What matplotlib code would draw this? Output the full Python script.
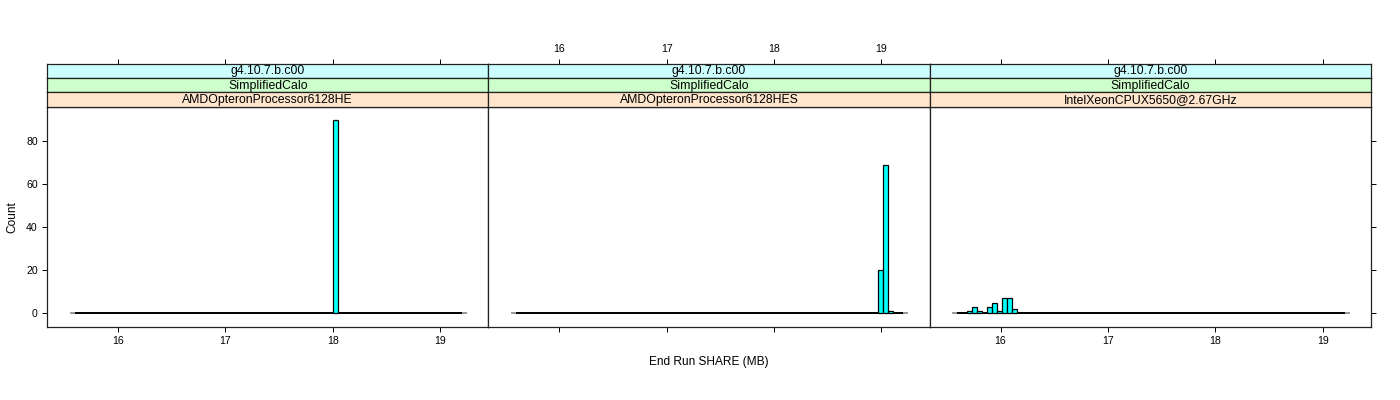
import numpy as np
import matplotlib
matplotlib.use("Agg")
import matplotlib.pyplot as plt

plt.rcParams['font.family'] = ['Liberation Sans', 'DejaVu Sans']

# ---- data ----
bin_lo = 15.55
bin_hi = 19.25
n_bins = 80

strip_top = ["g4.10.7.b.c00", "g4.10.7.b.c00", "g4.10.7.b.c00"]
strip_mid = ["SimplifiedCalo", "SimplifiedCalo", "SimplifiedCalo"]
strip_bot = ["AMDOpteronProcessor6128HE", "AMDOpteronProcessor6128HES",
             "IntelXeonCPUX5650@2.67GHz"]

p1_bins = [53]
p1_counts = [90]
p2_bins = [74, 75, 76]
p2_counts = [20, 69, 1]
p3_bins = [3, 4, 5, 7, 8, 9, 10, 11, 12]
p3_counts = [1, 3, 1, 3, 5, 1, 7, 7, 2]

x_ticks = [16, 17, 18, 19]
y_ticks = [0, 20, 40, 60, 80]
xlim = (15.34, 19.45)
ylim = (-6.5, 96)

panels = [(p1_bins, p1_counts), (p2_bins, p2_counts), (p3_bins, p3_counts)]

# ---- layout ----
W, H = 1400, 400
fig = plt.figure(figsize=(14, 4), dpi=100)

left_px = 47
right_px = 1371
pw = (right_px - left_px) / 3
plot_top = 107.0
plot_bot = 327.3
strip_edges = [63.5, 78.0, 92.3, 107.0]
strip_cols = ["#ccffff", "#ccffcc", "#ffe5cc"]

fs = 7.6
edges = np.linspace(bin_lo, bin_hi, n_bins + 1)
width = edges[1] - edges[0]

def fy(py):
    return 1 - py / H

for i, (bins, counts) in enumerate(panels):
    x0 = (left_px + i * pw) / W
    wf = pw / W
    ax = fig.add_axes([x0, fy(plot_bot), wf, fy(plot_top) - fy(plot_bot)])
    # zero-count bins appear as a flat baseline
    ax.plot([edges[0], edges[-1]], [0, 0], color='#999999', lw=1.4,
            solid_capstyle='butt', zorder=1)
    ax.plot([edges[1], edges[-2]], [0, 0], color='black', lw=1.4,
            solid_capstyle='butt', zorder=1)
    ax.bar(edges[np.array(bins)], counts, width=width, align='edge',
           color='#00ffff', edgecolor='black', linewidth=0.9, zorder=2)
    ax.set_xlim(*xlim)
    ax.set_ylim(*ylim)
    for s in ax.spines.values():
        s.set_linewidth(0.9)
        s.set_color('#222222')
    ax.set_xticks(x_ticks)
    ax.tick_params(axis='both', direction='out', length=3.6, width=0.7,
                   labelsize=fs, pad=3, colors='black')
    ax.tick_params(axis='x', top=False, bottom=True, labelbottom=(i != 1))
    ax.set_yticks(y_ticks)
    if i == 0:
        ax.tick_params(axis='y', left=True, labelleft=True, right=False)
    elif i == 2:
        ax.tick_params(axis='y', left=False, labelleft=False, right=True,
                       labelright=False)
    else:
        ax.tick_params(axis='y', left=False, labelleft=False)

    # strips
    texts = [strip_top[i], strip_mid[i], strip_bot[i]]
    for k in range(3):
        sa = fig.add_axes([x0, fy(strip_edges[k + 1]), wf,
                           fy(strip_edges[k]) - fy(strip_edges[k + 1])])
        sa.set_facecolor(strip_cols[k])
        sa.set_xticks([])
        sa.set_yticks([])
        for s in sa.spines.values():
            s.set_linewidth(0.9)
            s.set_color('#222222')
        sa.text(0.5, 0.45, texts[k], ha='center', va='center',
                fontsize=8.8, transform=sa.transAxes)
        if k == 0:
            sa.set_xlim(*xlim)
            sa.set_xticks(x_ticks)
            sa.tick_params(axis='x', bottom=False, labelbottom=False,
                           top=True, labeltop=(i == 1), direction='out',
                           length=3.6, width=0.7, labelsize=fs, pad=3)

fig.text(709 / W, fy(362), "End Run SHARE (MB)", ha='center', va='center',
         fontsize=8.6)
fig.text(12 / W, fy(217), "Count", ha='center', va='center', rotation=90,
         fontsize=8.6)

fig.savefig("out.png", dpi=100)
